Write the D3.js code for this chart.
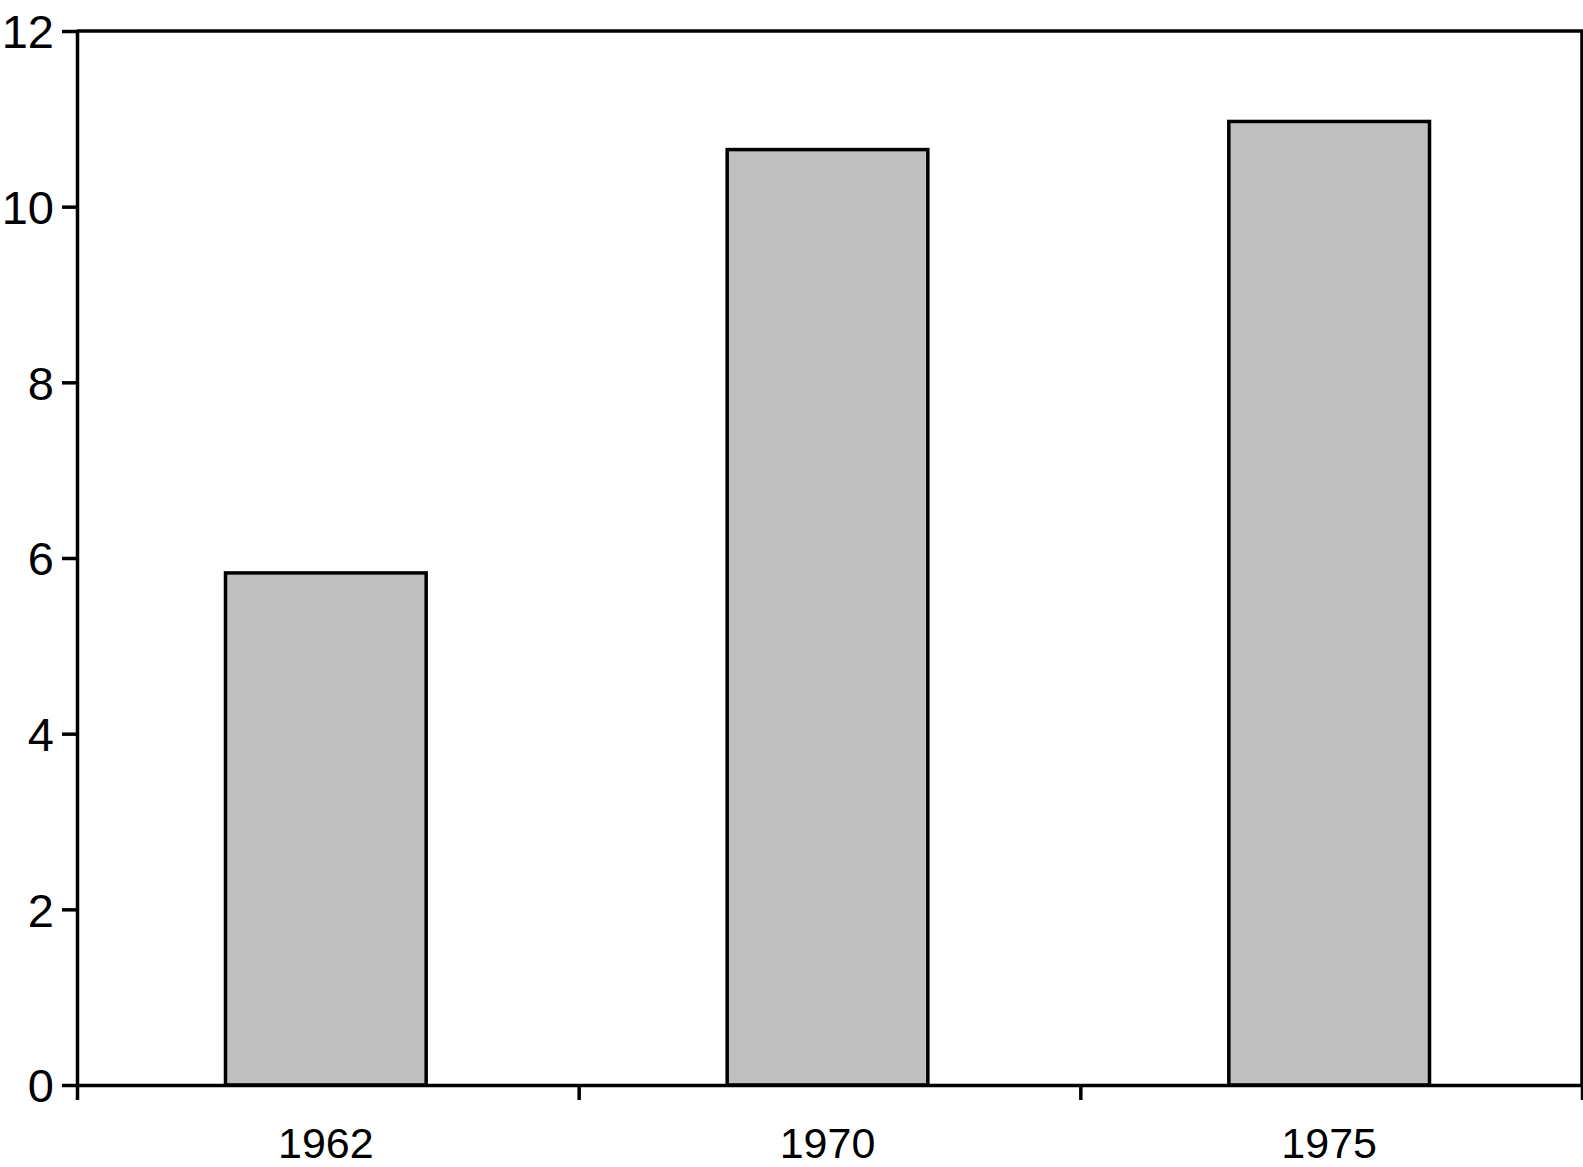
<!DOCTYPE html>
<html>
<head>
<meta charset="utf-8">
<script src="https://cdn.jsdelivr.net/npm/d3@7"></script>
<style>
  body { margin: 0; background: #fff; }
  text { font-family: "Liberation Sans", Arial, sans-serif; fill: #000; }
</style>
</head>
<body>
<div id="mybarchart"></div>
<script>
// data
var years = ["1962", "1970", "1975"];
var values = [5.83, 10.65, 10.97];
var yTicks = [0, 2, 4, 6, 8, 10, 12];

// set the dimensions and margins of the graph
var margin = {top: 31, right: 1, bottom: 82, left: 77},
    width = 1583 - margin.left - margin.right,
    height = 1167 - margin.top - margin.bottom;

var svg = d3.select("#mybarchart")
  .append("svg")
    .attr("width", width + margin.left + margin.right)
    .attr("height", height + margin.top + margin.bottom)
  .append("g")
    .attr("transform", "translate(" + margin.left + "," + margin.top + ")");

// X scale: one band per year, bars take 40% of it
var x = d3.scaleBand()
  .range([0, width])
  .domain(years)
  .padding(0);

// linear scale only for the tick marks between categories
var xEdges = d3.scaleLinear()
  .domain([0, years.length])
  .range([0, width]);

var y = d3.scaleLinear()
  .domain([0, 12])
  .range([height, 0]);

// frame on top and right
svg.append("path")
  .attr("d", "M0,0H" + width + "V" + height)
  .attr("fill", "none")
  .attr("stroke", "#000")
  .attr("stroke-width", 3.5);

// Bars
svg.selectAll("mybar")
  .data(values)
  .enter()
  .append("rect")
    .attr("x", function(d, i) { return x(years[i]) + x.bandwidth() * 0.3 - 2; })
    .attr("y", function(d) { return y(d); })
    .attr("width", x.bandwidth() * 0.4)
    .attr("height", function(d) { return height - y(d); })
    .attr("fill", "#c0c0c0")
    .attr("stroke", "#000")
    .attr("stroke-width", 3.5);

// Y axis
var yAxis = svg.append("g")
  .call(d3.axisLeft(y).tickValues(yTicks).tickSize(15).tickPadding(8).tickSizeOuter(0));
yAxis.select(".domain").attr("stroke-width", 3.5);
yAxis.selectAll(".tick line").attr("stroke-width", 3.5);
yAxis.selectAll("text").style("font-size", "47px").attr("dy", "0.36em");

// X axis: tick marks at category boundaries
var xAxis = svg.append("g")
  .attr("transform", "translate(0," + height + ")")
  .call(d3.axisBottom(xEdges).tickValues([0, 1, 2, 3]).tickFormat("").tickSize(15).tickSizeOuter(0));
xAxis.select(".domain").attr("stroke-width", 3.5);
xAxis.selectAll(".tick line").attr("stroke-width", 3.5);

// X labels centred on each band
var xLabels = svg.append("g")
  .attr("transform", "translate(0," + height + ")")
  .call(d3.axisBottom(x).tickSize(0).tickPadding(42));
xLabels.select(".domain").remove();
xLabels.selectAll("text").style("font-size", "43px").attr("dx", "-2");
</script>
</body>
</html>
